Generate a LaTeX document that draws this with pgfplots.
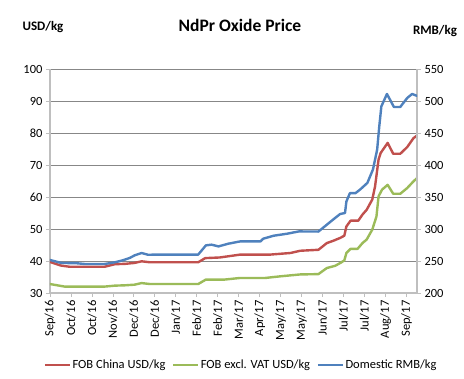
\documentclass[border=0pt]{standalone}
\usepackage{pgfplots}
\pgfplotsset{compat=1.18}
\usepackage{fontspec}
\setmainfont{Carlito}
\definecolor{cred}{HTML}{C0504D}
\definecolor{cgreen}{HTML}{9BBB59}
\definecolor{cblue}{HTML}{4F81BD}
\definecolor{gridc}{HTML}{878787}
\definecolor{axc}{HTML}{BFBFBF}
\begin{document}
\begin{tikzpicture}
\pgfplotsset{
  base/.style={scale only axis, width=367pt, height=224pt, xmin=0, xmax=52.5,
    at={(0,0)}, anchor=south west,
    tick label style={font=\fontsize{12.5}{14}\selectfont, text=black},
    /pgf/number format/assume math mode=true,
    tick align=outside, major tick length=4pt,
    tick style={axc, line width=0.8pt},
    axis line style={axc, line width=1.2pt, -}},
  ser/.style={line width=2.4pt, line join=round, line cap=round, mark=none}
}
\begin{axis}[base, axis x line*=bottom, axis y line*=left,
  ymin=30, ymax=100, ytick={30,40,...,100},
  ymajorgrids, grid style={gridc, line width=0.8pt},
  xtick={0,3,...,51},
  xticklabels={Sep/16,Oct/16,Oct/16,Nov/16,Dec/16,Dec/16,Jan/17,Feb/17,Feb/17,Mar/17,Apr/17,May/17,May/17,Jun/17,Jul/17,Jul/17,Aug/17,Sep/17},
  xticklabel style={rotate=90, anchor=east},
  legend columns=3,
  legend style={draw=none, fill=none, at={(0.52,-0.321)}, anchor=center,
    font=\fontsize{12.5}{14}\selectfont,
    nodes={inner xsep=1.5pt},
    /tikz/every even column/.append style={column sep=5pt}},
  legend image code/.code={\draw[#1, line width=2.4pt, line cap=butt] (0pt,0pt) -- (25pt,0pt);}
]
\addplot[ser, cred] coordinates {
(0,39.7) (1.5,38.6) (2.8,38.2) (7.8,38.2) (9.3,39.0) (10.7,39.1) (12.1,39.4) (13.1,39.9) (14.3,39.6) (21.2,39.6) (22.2,40.9) (24.3,41.1) (27.2,42.0) (31.5,42.0) (34.4,42.5) (35.8,43.2) (38.4,43.5) (39.6,45.6) (40.5,46.3) (41.5,47.2) (42.1,47.9) (42.4,50.8) (43.0,52.6) (44.1,52.6) (44.7,54.5) (45.3,56.0) (46.1,59.2) (46.5,63.3) (47.0,71.7) (47.3,73.75) (48.3,76.9) (49.1,73.5) (50.1,73.5) (51.1,75.6) (52.0,78.4) (52.5,79.2)
};
\addlegendentry{FOB China USD/kg}
\addplot[ser, cgreen] coordinates {
(0,32.8) (2.1,32.0) (7.8,32.0) (9.3,32.3) (10.7,32.4) (12.1,32.6) (13.1,33.1) (14.3,32.8) (21.2,32.8) (22.3,34.2) (25,34.2) (27.2,34.7) (30.8,34.7) (32.9,35.2) (35.8,35.8) (38.4,35.9) (39.6,37.8) (40.8,38.5) (41.7,39.6) (42.1,40.2) (42.4,42.5) (43.0,43.8) (44.0,43.8) (44.7,45.6) (45.3,46.7) (46.1,49.8) (46.7,53.9) (47.0,60.2) (47.5,62.3) (48.3,63.8) (49.1,61.0) (50.1,61.0) (51.1,62.8) (52.0,64.9) (52.5,65.9)
};
\addlegendentry{FOB excl. VAT USD/kg}
\addlegendimage{ser, cblue}
\addlegendentry{Domestic RMB/kg}
\end{axis}
\begin{axis}[base, axis x line=none, axis y line*=right,
  ymin=200, ymax=550, ytick={200,250,...,550}]
\addplot[ser, cblue] coordinates {
(0,251.6) (1.6,247) (3.8,246.5) (5,245.3) (7.8,245.3) (9.3,248) (10.4,251) (11.4,254.7) (12.1,258.8) (13.1,262.5) (14,259.8) (17.1,260) (21.2,260) (22.3,274.4) (23.1,275.5) (24.1,272.8) (25.5,277) (27.2,280.6) (30.1,280.6) (30.5,284.8) (32,289.5) (33.9,292.6) (35.6,296.2) (38.4,296) (39.6,306.7) (40.6,315.6) (41.5,323.4) (42.2,325) (42.4,343) (42.9,356) (43.7,356) (44.4,362) (45.4,372) (46.2,393) (46.8,424) (47.1,460) (47.4,491.5) (48.2,511) (49.2,490.6) (50.1,490.6) (51.1,504.7) (51.8,511) (52.5,508)
};
\end{axis}
\node[font=\bfseries\fontsize{17.5}{20}\selectfont] at (190pt,268pt) {NdPr Oxide Price};
\node[font=\bfseries\fontsize{13}{15}\selectfont] at (-7pt,266pt) {USD/kg};
\node[font=\bfseries\fontsize{13}{15}\selectfont] at (385pt,261.5pt) {RMB/kg};
\pgfresetboundingbox
\useasboundingbox (-50pt,-86pt) rectangle (414pt,293pt);
\end{tikzpicture}
\end{document}
